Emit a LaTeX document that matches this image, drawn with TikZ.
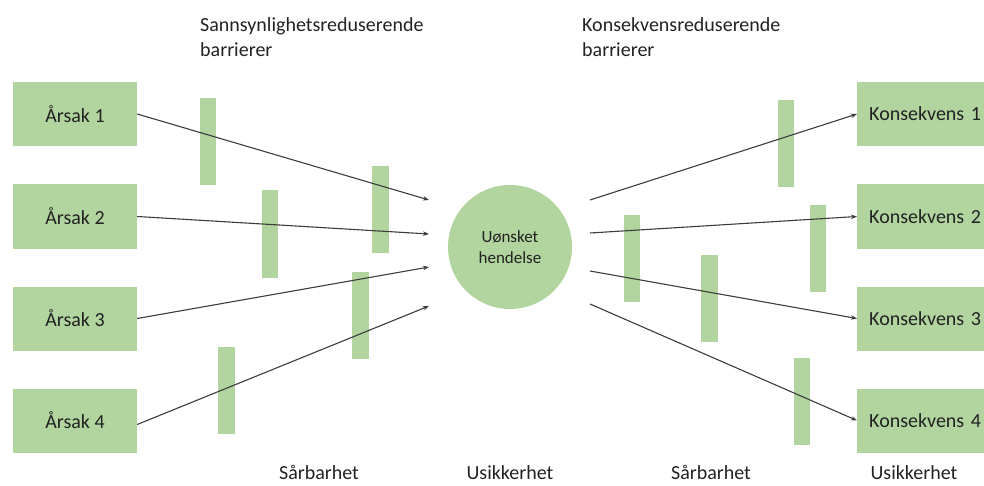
\documentclass[tikz,border=0pt]{standalone}
\usepackage{fontspec}
\setmainfont{Carlito}
\usetikzlibrary{arrows.meta}
\definecolor{boxgreen}{HTML}{B2D49E}
\definecolor{txt}{HTML}{222222}
\definecolor{lne}{HTML}{3C3C3C}
\begin{document}
\begin{tikzpicture}[x=1pt,y=-1pt,
  every node/.style={text=txt, font=\fontsize{20}{25}\selectfont},
  causebox/.style={fill=boxgreen, draw=none, minimum width=124, minimum height=64, inner sep=0},
  conbox/.style={fill=boxgreen, draw=none, minimum height=64, text width=130, inner xsep=12, align=left, anchor=west},
  barrier/.style={fill=boxgreen, draw=none, minimum width=16.5, minimum height=87, inner sep=0},
  event/.style={circle, fill=boxgreen, draw=none, minimum size=124, inner sep=0, align=center, font=\fontsize{17}{21}\selectfont},
  conn/.style={draw=lne, line width=1.1pt, -{Stealth[length=6pt,width=4.5pt]}},
  lbl/.style={inner sep=0, anchor=base}
]
\useasboundingbox (0,0) rectangle (984,486);

% barriers
\node[barrier] (b1) at (208,141.5) {};
\node[barrier] (b2) at (270,234) {};
\node[barrier] (b3) at (380.5,209.5) {};
\node[barrier] (b4) at (360.5,315.5) {};
\node[barrier] (b5) at (226.5,390) {};
\node[barrier] (r1) at (786,143.5) {};
\node[barrier] (r2) at (818,248.5) {};
\node[barrier] (r3) at (632,258.5) {};
\node[barrier] (r4) at (709.5,298) {};
\node[barrier] (r5) at (802,401) {};

% cause boxes
\node[causebox] (a1) at (75,114) {Årsak 1};
\node[causebox] (a2) at (75,216.5) {Årsak 2};
\node[causebox] (a3) at (75,318.5) {Årsak 3};
\node[causebox] (a4) at (75,420.5) {Årsak 4};

% consequence boxes
\node[conbox] (k1) at (857,114) {Konsekvens 1};
\node[conbox] (k2) at (857,216.5) {Konsekvens 2};
\node[conbox] (k3) at (857,318.5) {Konsekvens 3};
\node[conbox] (k4) at (857,420.5) {Konsekvens 4};

% event
\node[event] (ev) at (510,247) {Uønsket\\hendelse};

% free ends
\coordinate (t1) at (429,200);
\coordinate (t2) at (429,234);
\coordinate (t3) at (429,267);
\coordinate (t4) at (429,306);
\coordinate (s1) at (590,200);
\coordinate (s2) at (590,233);
\coordinate (s3) at (590,271);
\coordinate (s4) at (590,304);

% connectors
\draw[conn] (a1.east) -- (t1);
\draw[conn] (a2.east) -- (t2);
\draw[conn] (a3.east) -- (t3);
\draw[conn] ([yshift=-4]a4.east) -- (t4);
\draw[conn] (s1) -- (k1.west);
\draw[conn] (s2) -- (k2.west);
\draw[conn] (s3) -- (k3.west);
\draw[conn] (s4) -- (k4.west);

% labels
\node[inner sep=0, anchor=north west, align=left] (top1) at (200,17) {Sannsynlighetsreduserende\\barrierer};
\node[inner sep=0, anchor=north west, align=left] (top2) at (582,17) {Konsekvensreduserende\\barrierer};
\node[lbl] (v1) at (319,479) {Sårbarhet};
\node[lbl] (u1) at (510,479) {Usikkerhet};
\node[lbl] (v2) at (711,479) {Sårbarhet};
\node[lbl] (u2) at (914,479) {Usikkerhet};
\end{tikzpicture}
\end{document}
